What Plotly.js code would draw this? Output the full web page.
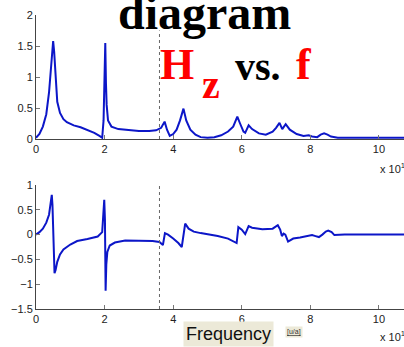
<!DOCTYPE html>
<html>
<head>
<meta charset="utf-8">
<script src="https://cdn.plot.ly/plotly-3.0.1.min.js"></script>
<style>html,body{margin:0;padding:0;background:#fff;}#chart{width:404px;height:347px;}</style>
</head>
<body>
<div id="chart"></div>
<script>
// |Hz| magnitude (top panel)
const magFreq = [0,0.1,0.2,0.3,0.38,0.43,0.47,0.5,0.53,0.57,0.62,0.7,0.8,0.9,1.1,1.3,1.5,1.7,1.85,1.93,1.97,2.0,2.02,2.04,2.06,2.1,2.2,2.4,2.7,3.0,3.3,3.5,3.65,3.75,3.82,3.9,4.0,4.1,4.2,4.3,4.38,4.5,4.65,4.8,5.0,5.2,5.4,5.6,5.75,5.87,5.95,6.05,6.1,6.2,6.3,6.5,6.7,6.9,7.0,7.1,7.18,7.28,7.4,7.6,7.8,7.95,8.05,8.2,8.3,8.4,8.5,8.6,8.8,9.5,10.73];
const magVals = [0.02,0.08,0.2,0.4,0.75,1.1,1.45,1.58,1.4,0.95,0.6,0.42,0.32,0.27,0.22,0.19,0.15,0.1,0.05,0.02,0.3,1.2,1.55,0.9,0.55,0.3,0.2,0.16,0.14,0.13,0.13,0.14,0.18,0.28,0.15,0.05,0.08,0.15,0.3,0.49,0.3,0.15,0.07,0.03,0.02,0.03,0.06,0.12,0.2,0.36,0.25,0.12,0.1,0.22,0.16,0.09,0.07,0.12,0.18,0.26,0.16,0.24,0.15,0.08,0.05,0.06,0.04,0.03,0.07,0.09,0.07,0.04,0.02,0.02,0.02];
// Re(Hz) (bottom panel)
const reFreq = [0,0.1,0.2,0.3,0.38,0.43,0.46,0.48,0.5,0.52,0.54,0.57,0.62,0.7,0.8,1.0,1.2,1.5,1.8,1.93,1.97,1.99,2.01,2.03,2.05,2.08,2.15,2.3,2.6,3.0,3.4,3.6,3.7,3.76,3.85,4.0,4.15,4.25,4.35,4.45,4.6,4.8,5.0,5.3,5.6,5.8,5.85,5.9,6.0,6.1,6.2,6.3,6.6,6.9,7.05,7.12,7.17,7.22,7.27,7.35,7.5,7.7,7.9,8.05,8.15,8.25,8.35,8.45,8.52,8.62,8.7,9.0,10.73];
const reVals = [0,0.05,0.12,0.24,0.4,0.65,0.8,0.6,0.0,-0.6,-0.78,-0.72,-0.55,-0.4,-0.3,-0.2,-0.13,-0.09,-0.04,0.05,0.4,0.7,0.3,-1.13,-0.6,-0.35,-0.22,-0.16,-0.12,-0.12,-0.13,-0.15,-0.21,0.03,0.0,-0.08,-0.17,-0.25,0.22,0.12,0.06,0.03,0.01,-0.03,-0.08,-0.15,-0.17,0.15,0.1,0.01,0.17,0.14,0.11,0.12,0.19,0.1,-0.03,0.02,0.0,-0.14,-0.08,-0.06,-0.04,-0.01,-0.03,-0.05,0.0,0.06,0.08,0.05,-0.01,0.0,0.0];
const xTicks = [0,2,4,6,8,10];
const topYTicks = [0,0.5,1,1.5,2];
const botYTicks = [-1.5,-1,-0.5,0,0.5,1];
const markerFreq = [3.6];

const W = 404, H = 347;
const px = v => v / W, py = v => 1 - v / H;
const lineColor = '#0c16c8';
const axisCommon = {
  showgrid:false, zeroline:false, showline:true, linecolor:'#444', linewidth:1,
  ticks:'inside', ticklen:4, tickcolor:'#777', tickfont:{family:'Liberation Sans, Arial', size:11, color:'#222'},
  fixedrange:true
};
const xr = [0, 10.73];
const data = [
  {x:magFreq, y:magVals, xaxis:'x', yaxis:'y', type:'scatter', mode:'lines', line:{color:lineColor, width:2}},
  {x:reFreq, y:reVals, xaxis:'x2', yaxis:'y2', type:'scatter', mode:'lines', line:{color:lineColor, width:2}}
];
const serif = 'Liberation Serif, Times New Roman, serif';
const layout = {
  width:W, height:H, margin:{l:0,r:0,t:0,b:0}, showlegend:false,
  paper_bgcolor:'#fff', plot_bgcolor:'#fff',
  xaxis:Object.assign({}, axisCommon, {domain:[px(36),1], range:xr, tickvals:xTicks, anchor:'y'}),
  yaxis:Object.assign({}, axisCommon, {domain:[py(139),py(15)], range:[0,2], tickvals:topYTicks, anchor:'x'}),
  xaxis2:Object.assign({}, axisCommon, {domain:[px(36),1], range:xr, tickvals:xTicks, anchor:'y2'}),
  yaxis2:Object.assign({}, axisCommon, {domain:[py(309),py(185)], range:[-1.5,1], tickvals:botYTicks, anchor:'x2'}),
  shapes:[
    {type:'line', xref:'x', yref:'y', x0:markerFreq[0], x1:markerFreq[0], y0:0, y1:1.75, line:{color:'#666', width:1, dash:'dot'}},
    {type:'line', xref:'x2', yref:'y2', x0:markerFreq[0], x1:markerFreq[0], y0:-1.5, y1:1, line:{color:'#666', width:1, dash:'dot'}}
  ],
  annotations:[
    {text:'<b>diagram</b>', xref:'paper', yref:'paper', x:px(204), y:py(12), xanchor:'center', yanchor:'middle', showarrow:false, font:{family:serif, size:48, color:'#000'}},
    {text:'<b>H</b>', xref:'paper', yref:'paper', x:px(177), y:py(64), xanchor:'center', yanchor:'middle', showarrow:false, font:{family:serif, size:44, color:'#ff0000'}},
    {text:'<b>z</b>', xref:'paper', yref:'paper', x:px(211), y:py(84), xanchor:'center', yanchor:'middle', showarrow:false, font:{family:serif, size:40, color:'#ff0000'}},
    {text:'<b>vs.</b>', xref:'paper', yref:'paper', x:px(258), y:py(66), xanchor:'center', yanchor:'middle', showarrow:false, font:{family:serif, size:40, color:'#000'}},
    {text:'<b>f</b>', xref:'paper', yref:'paper', x:px(304), y:py(64), xanchor:'center', yanchor:'middle', showarrow:false, font:{family:serif, size:44, color:'#ff0000'}},
    {text:'x 10<sup>1</sup>', xref:'paper', yref:'paper', x:px(378), y:py(168), xanchor:'left', yanchor:'middle', showarrow:false, font:{family:'Liberation Sans, Arial', size:11, color:'#222'}},
    {text:'x 10<sup>1</sup>', xref:'paper', yref:'paper', x:px(378), y:py(336), xanchor:'left', yanchor:'middle', showarrow:false, font:{family:'Liberation Sans, Arial', size:11, color:'#222'}},
    {text:'Frequency', xref:'paper', yref:'paper', x:px(229), y:py(334), xanchor:'center', yanchor:'middle', showarrow:false, bgcolor:'#ece9d8', borderpad:2, font:{family:'Liberation Sans, Arial', size:18, color:'#111'}},
    {text:'<u>[u/a]</u>', xref:'paper', yref:'paper', x:px(294), y:py(332), xanchor:'center', yanchor:'middle', showarrow:false, bgcolor:'#ece9d8', borderpad:1, font:{family:'Liberation Sans, Arial', size:7, color:'#333'}}
  ]
};
Plotly.newPlot('chart', data, layout, {displayModeBar:false, staticPlot:true});
</script>
</body>
</html>
